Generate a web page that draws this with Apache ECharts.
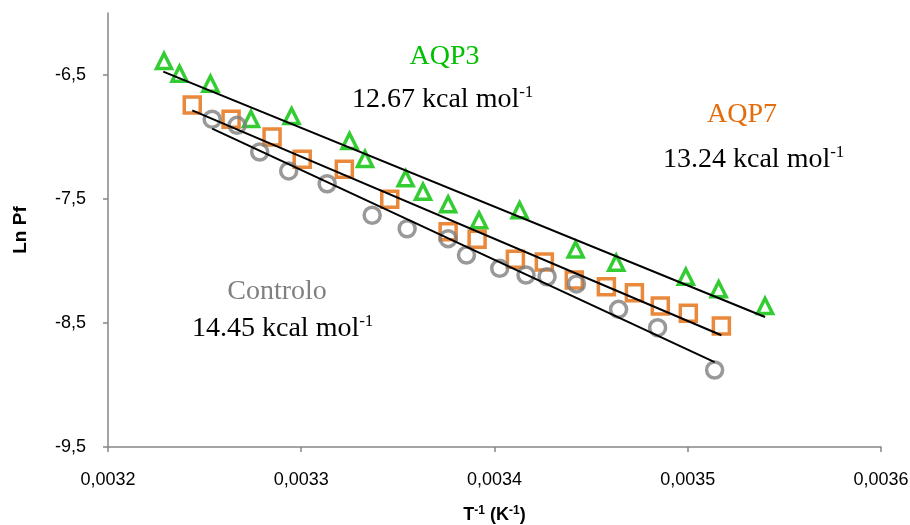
<!DOCTYPE html>
<html>
<head>
<meta charset="utf-8">
<script src="https://cdn.jsdelivr.net/npm/echarts@6/dist/echarts.min.js"></script>
<style>
  html, body { margin: 0; padding: 0; background: #fff; }
  #main { width: 910px; height: 525px; }
</style>
</head>
<body>
<div id="main"></div>
<script>
// valores (T^-1 em K^-1, Ln Pf)
var aqp3X = [0.003229, 0.003237, 0.003253, 0.003274, 0.003295, 0.003325, 0.003333, 0.003354, 0.003363,
             0.003376, 0.003392, 0.003413, 0.003442, 0.003463, 0.003499, 0.003516, 0.003540]
var aqp3Y = [-6.387, -6.490, -6.570, -6.855, -6.831, -7.032, -7.177, -7.333, -7.441,
             -7.543, -7.672, -7.591, -7.907, -8.014, -8.127, -8.228, -8.363]

var aqp7X = [0.0032436, 0.0032637, 0.0032849, 0.0033005, 0.0033223, 0.0033458, 0.0033760, 0.0033910,
             0.0034108, 0.0034258, 0.0034413, 0.0034579, 0.0034724, 0.0034858, 0.0035003, 0.0035174]
var aqp7Y = [-6.742, -6.857, -7.000, -7.180, -7.260, -7.502, -7.764, -7.825,
             -7.986, -8.008, -8.153, -8.207, -8.256, -8.363, -8.422, -8.524]

var ctrlX = [0.0032539, 0.0032668, 0.0032785, 0.0032935, 0.0033134, 0.0033367, 0.0033548, 0.0033760,
             0.0033855, 0.0034027, 0.0034163, 0.0034272, 0.0034424, 0.0034642, 0.0034844, 0.0035139]
var ctrlY = [-6.857, -6.906, -7.121, -7.274, -7.377, -7.631, -7.740, -7.820,
             -7.952, -8.059, -8.113, -8.127, -8.185, -8.390, -8.538, -8.879]

// linhas de tendência (extremos)
var aqp3Trend = [[0.0032286, -6.473], [0.003540, -8.452]]
var aqp7Trend = [[0.0032436, -6.785], [0.0035174, -8.599]]
var ctrlTrend = [[0.0032539, -6.933], [0.0035139, -8.815]]

var xMin = 0.0032, xMax = 0.0036, xStep = 0.0001
var yMin = -9.5, yMax = -6, yStep = 1

var labels = [
    { name: 'AQP3', energy: '12.67' },
    { name: 'AQP7', energy: '13.24' },
    { name: 'Controlo', energy: '14.45' }
]

var green = '#00c000'
var orange = '#e46c0a'
var grey = '#808080'
var axisGrey = '#868686'

function pairs(xs, ys) {
    return xs.map(function (x, i) { return [x, ys[i]] })
}

function energyText(e) {
    return '{m|' + e + ' kcal mol}{s|-1}'
}
var serifRich = {
    m: { fontFamily: 'Liberation Serif', fontSize: 28, fill: '#000', lineHeight: 32 },
    s: { fontFamily: 'Liberation Serif', fontSize: 17, fill: '#000', lineHeight: 17, verticalAlign: 'top' }
}

var myChart = echarts.init(document.getElementById('main'))

var option = {
    animation: false,
    backgroundColor: '#fff',
    grid: { left: 108, right: 29, top: 13, bottom: 78, outerBoundsMode: 'none' },
    xAxis: {
        type: 'value',
        min: xMin, max: xMax, interval: xStep,
        name: '{b|T}{s|-1}{b| (K}{s|-1}{b|)}',
        nameLocation: 'middle',
        nameGap: 58,
        nameTextStyle: {
            rich: {
                b: { fontFamily: 'Liberation Sans', fontWeight: 'bold', fontSize: 18, color: '#000', lineHeight: 21 },
                s: { fontFamily: 'Liberation Sans', fontWeight: 'bold', fontSize: 12, color: '#000', lineHeight: 12, verticalAlign: 'top' }
            }
        },
        axisLine: { lineStyle: { color: axisGrey, width: 1.5 } },
        axisTick: { length: 5, lineStyle: { color: axisGrey, width: 1.5 } },
        axisLabel: {
            fontFamily: 'Liberation Sans', fontSize: 18, color: '#000', margin: 24,
            formatter: function (v) { return v.toFixed(4).replace('.', ',') }
        },
        splitLine: { show: false }
    },
    yAxis: {
        type: 'value',
        min: yMin, max: yMax, interval: yStep,
        name: 'Ln Pf',
        nameLocation: 'middle',
        nameRotate: 90,
        nameGap: 78,
        nameTextStyle: { fontFamily: 'Liberation Sans', fontWeight: 'bold', fontSize: 19, color: '#000' },
        axisLine: { lineStyle: { color: axisGrey, width: 1.5 } },
        axisTick: { length: 5, lineStyle: { color: axisGrey, width: 1.5 } },
        axisLabel: {
            fontFamily: 'Liberation Sans', fontSize: 18, color: '#000', margin: 22,
            showMaxLabel: false,
            formatter: function (v) {
                if (Math.abs(v - yMax) < 1e-9) return ''
                return v.toFixed(1).replace('.', ',')
            }
        },
        splitLine: { show: false }
    },
    graphic: [
        { type: 'text', x: 444.5, y: 57, style: { text: labels[0].name, fill: green, font: '28px "Liberation Serif"', textAlign: 'center', textVerticalAlign: 'middle' } },
        { type: 'text', x: 352, y: 100, style: { text: energyText(labels[0].energy), rich: serifRich, textAlign: 'left', textVerticalAlign: 'middle' } },
        { type: 'text', x: 742, y: 115, style: { text: labels[1].name, fill: orange, font: '28px "Liberation Serif"', textAlign: 'center', textVerticalAlign: 'middle' } },
        { type: 'text', x: 663, y: 160, style: { text: energyText(labels[1].energy), rich: serifRich, textAlign: 'left', textVerticalAlign: 'middle' } },
        { type: 'text', x: 277, y: 292, style: { text: labels[2].name, fill: grey, font: '28px "Liberation Serif"', textAlign: 'center', textVerticalAlign: 'middle' } },
        { type: 'text', x: 192, y: 329, style: { text: energyText(labels[2].energy), rich: serifRich, textAlign: 'left', textVerticalAlign: 'middle' } }
    ],
    series: [
        {
            name: 'AQP3', type: 'scatter', data: pairs(aqp3X, aqp3Y),
            symbol: 'triangle', symbolSize: 15,
            itemStyle: { color: 'rgba(0,0,0,0)', borderColor: green, borderWidth: 3.5 }
        },
        {
            name: 'AQP7', type: 'scatter', data: pairs(aqp7X, aqp7Y),
            symbol: 'rect', symbolSize: 16,
            itemStyle: { color: 'rgba(0,0,0,0)', borderColor: orange, borderWidth: 3.5 }
        },
        {
            name: 'Controlo', type: 'scatter', data: pairs(ctrlX, ctrlY),
            symbol: 'circle', symbolSize: 16,
            itemStyle: { color: 'rgba(0,0,0,0)', borderColor: grey, borderWidth: 3.5 }
        },
        { type: 'line', data: aqp3Trend, symbol: 'none', z: 5, lineStyle: { color: '#000', width: 2 } },
        { type: 'line', data: aqp7Trend, symbol: 'none', z: 5, lineStyle: { color: '#000', width: 2 } },
        { type: 'line', data: ctrlTrend, symbol: 'none', z: 5, lineStyle: { color: '#000', width: 2 } }
    ]
}

myChart.setOption(option)
</script>
</body>
</html>
